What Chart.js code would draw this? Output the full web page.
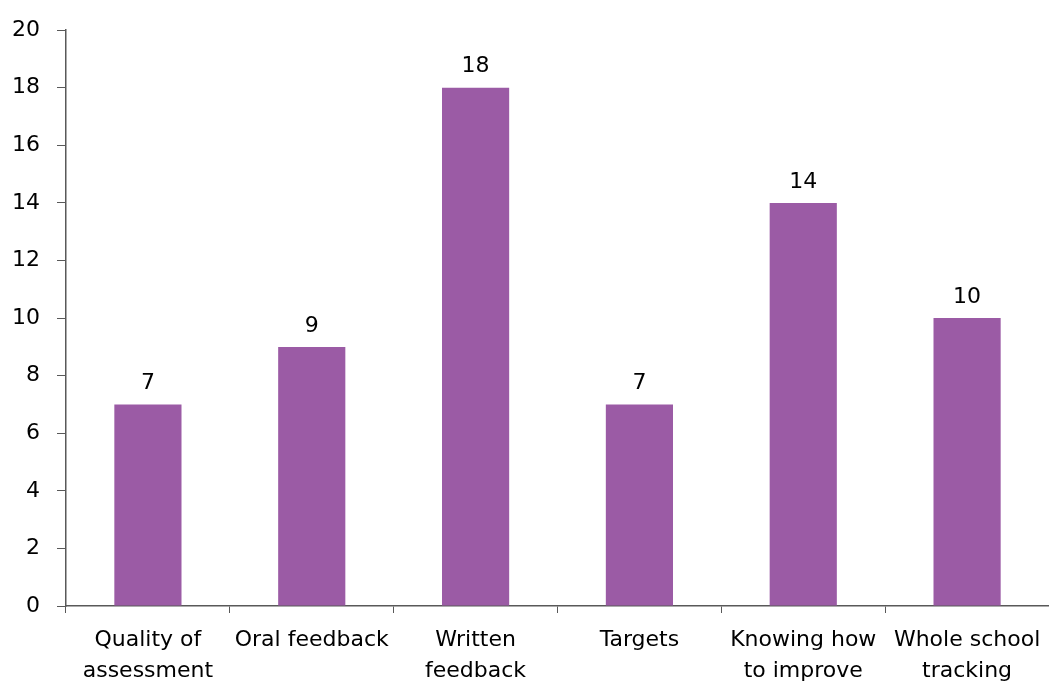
<!DOCTYPE html>
<html>
<head>
<meta charset="utf-8">
<script src="https://cdn.jsdelivr.net/npm/chart.js@4/dist/chart.umd.min.js"></script>
<style>
  html, body { margin: 0; padding: 0; background: #fff; }
  #wrap { width: 1049px; height: 686px; }
</style>
</head>
<body>
<div id="wrap"><canvas id="grafico"></canvas></div>
<script>
const categorias = [["Quality of", "assessment"], "Oral feedback", ["Written", "feedback"], "Targets", ["Knowing how", "to improve"], ["Whole school", "tracking"]];
const valores = [7, 9, 18, 7, 14, 10];
const ticksY = [0, 2, 4, 6, 8, 10, 12, 14, 16, 18, 20];

const fuente = "DejaVu Sans, Tahoma, sans-serif";

// etiquetas de valor encima de cada barra
const etiquetasValor = {
  id: "etiquetasValor",
  afterDatasetsDraw(chart) {
    const ctx = chart.ctx;
    const meta = chart.getDatasetMeta(0);
    ctx.save();
    ctx.font = "22px " + fuente;
    ctx.fillStyle = "#000";
    ctx.textAlign = "center";
    ctx.textBaseline = "bottom";
    meta.data.forEach((barra, i) => {
      ctx.fillText(valores[i], barra.x, barra.y - 10);
    });
    ctx.restore();
  }
};

new Chart(document.getElementById("grafico"), {
  type: "bar",
  data: {
    labels: categorias,
    datasets: [{
      data: valores,
      backgroundColor: "#9b5ba5",
      categoryPercentage: 1,
      barPercentage: 0.41
    }]
  },
  options: {
    responsive: true,
    maintainAspectRatio: false,
    animation: false,
    layout: { padding: { top: 27, right: 0, left: 0, bottom: 0 } },
    plugins: { legend: { display: false }, tooltip: { enabled: false } },
    scales: {
      x: {
        offset: true,
        grid: { display: true, drawOnChartArea: false, drawTicks: true, tickLength: 7, color: "#595959", offset: true },
        border: { color: "#595959", width: 1.5 },
        ticks: { color: "#000", font: { family: fuente, size: 22, lineHeight: 1.4 }, padding: 12, maxRotation: 0, autoSkip: false },
        afterFit(scale) {
          scale.height = 80;
          scale.paddingRight = 0;
          scale.paddingLeft = 0;
        }
      },
      y: {
        min: 0,
        max: 20,
        afterBuildTicks(scale) { scale.ticks = ticksY.map(v => ({ value: v })); },
        grid: { display: true, drawOnChartArea: false, drawTicks: true, tickLength: 9, color: "#595959" },
        border: { color: "#595959", width: 1.5 },
        ticks: { color: "#000", font: { family: fuente, size: 22 }, padding: 17 },
        afterFit(scale) { scale.width = 66; }
      }
    }
  },
  plugins: [etiquetasValor]
});
</script>
</body>
</html>
